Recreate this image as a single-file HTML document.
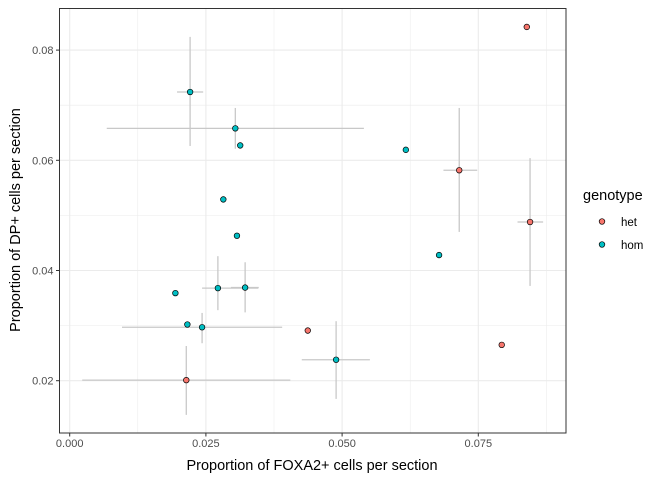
<!DOCTYPE html>
<html><head><meta charset="utf-8"><style>body{margin:0;background:#fff}svg{display:block;font-family:"Liberation Sans",Arial,sans-serif}</style></head>
<body>
<svg id="c" width="672" height="480">
<rect x="59.5" y="8.5" width="506.5" height="424.5" fill="#fff"/>
<g id="grid"></g><g id="errs"></g><g id="pts"></g><g id="axes"></g>
<rect x="59.5" y="8.5" width="506.5" height="424.5" fill="none" stroke="#333" stroke-width="1"/>
<text x="312" y="470" text-anchor="middle" font-size="14.5" fill="#000">Proportion of FOXA2+ cells per section</text>
<text transform="translate(20,220) rotate(-90)" text-anchor="middle" font-size="14.5" fill="#000">Proportion of DP+ cells per section</text>
<g>
<text x="583" y="200" font-size="14.5">genotype</text>
<g><circle cx="602" cy="221.5" r="2.8" fill="#F8766D" stroke="#000" stroke-width="0.7"/><text x="621" y="226" font-size="11.5">het</text></g>
<g><circle cx="602" cy="244.5" r="2.8" fill="#00BFC4" stroke="#000" stroke-width="0.7"/><text x="621" y="249" font-size="11.5">hom</text></g>
</g>
</svg>
<script>
const xTicks=[0,0.025,0.05,0.075];
const xTickLabels=["0.000","0.025","0.050","0.075"];
const yTicks=[0.02,0.04,0.06,0.08];
const yTickLabels=["0.02","0.04","0.06","0.08"];
const genotype=["hom","hom","hom","hom","hom","hom","hom","hom","hom","hom","hom","hom","hom","het","het","het","het","het","het"];
const xVals=[0.0221,0.0304,0.0313,0.0282,0.0307,0.0272,0.0322,0.0194,0.0216,0.0243,0.0489,0.0617,0.0678,0.0839,0.0715,0.0845,0.0437,0.0793,0.0214];
const yVals=[0.0724,0.0658,0.0627,0.0529,0.0463,0.0368,0.0369,0.0359,0.0302,0.0297,0.0238,0.0619,0.0428,0.0842,0.0582,0.0488,0.0291,0.0265,0.0201];
const xLo=[0.0197,0.0068,null,null,null,0.0243,0.0296,null,null,0.0096,0.0426,null,null,null,0.0686,0.0822,null,null,0.0023];
const xHi=[0.0245,0.0540,null,null,null,0.0346,0.0347,null,null,0.0390,0.0551,null,null,null,0.0748,0.0869,null,null,0.0405];
const yLo=[0.0626,0.0621,null,null,null,0.0328,0.0324,null,null,0.0268,0.0167,null,null,null,0.0470,0.0372,null,null,0.0138];
const yHi=[0.0824,0.0695,null,null,null,0.0426,0.0415,null,null,0.0323,0.0308,null,null,null,0.0695,0.0604,null,null,0.0263];
const X=v=>69.7+v*5448, Y=v=>380.7-(v-0.02)*5510;
const NS="http://www.w3.org/2000/svg";
function mk(t,p,a){const e=document.createElementNS(NS,t);for(const k in a)e.setAttribute(k,a[k]);p.appendChild(e);return e;}
const g=document.getElementById('grid'),ax=document.getElementById('axes');
const L=59.5,R=566,T=8.5,B=433;
for(let i=0;i<xTicks.length;i++){
  const x=X(xTicks[i]);
  const l=mk('line',g,{x1:x,x2:x,y1:T,y2:B,stroke:'#ebebeb','stroke-width':1.1});
  
  
  const m=X(xTicks[i]+0.0125);
  if(m<R){const ml=mk('line',g,{x1:m,x2:m,y1:T,y2:B,stroke:'#ebebeb','stroke-width':0.55});
  
  }
  mk('line',ax,{x1:x,x2:x,y1:B,y2:B+3.5,stroke:'#333'});
  const t=mk('text',ax,{x:x,y:B+14,'text-anchor':'middle','font-size':11,fill:'#4d4d4d'});
  t.textContent=xTickLabels[i];
  
  
}
for(let i=0;i<yTicks.length;i++){
  const y=Y(yTicks[i]);
  const l=mk('line',g,{x1:L,x2:R,y1:y,y2:y,stroke:'#ebebeb','stroke-width':1.1});
  
  
  for(const d of [-0.01,0.01]){const m=Y(yTicks[i]+d);
    if(m>T&&m<B&&!(d<0&&i>0)){const ml=mk('line',g,{x1:L,x2:R,y1:m,y2:m,stroke:'#ebebeb','stroke-width':0.55});
    
    }}
  mk('line',ax,{x1:L-3.5,x2:L,y1:y,y2:y,stroke:'#333'});
  const t=mk('text',ax,{x:L-6,y:y+4,'text-anchor':'end','font-size':11,fill:'#4d4d4d'});
  t.textContent=yTickLabels[i];
  
  
}
const eg=document.getElementById('errs'),pg=document.getElementById('pts');
for(let i=0;i<xVals.length;i++){
  if(xLo[i]!=null){const e=mk('line',eg,{x1:X(xLo[i]),x2:X(xHi[i]),y1:Y(yVals[i]),y2:Y(yVals[i]),stroke:'#c8c8c8','stroke-width':1.3});
    
    }
  if(yLo[i]!=null){const e=mk('line',eg,{x1:X(xVals[i]),x2:X(xVals[i]),y1:Y(yLo[i]),y2:Y(yHi[i]),stroke:'#c8c8c8','stroke-width':1.3});
    
    }
  const c=mk('circle',pg,{cx:X(xVals[i]),cy:Y(yVals[i]),r:2.8,fill:genotype[i]=='het'?'#F8766D':'#00BFC4',stroke:'#000','stroke-width':0.7});
  
  
}
</script>
</body></html>
